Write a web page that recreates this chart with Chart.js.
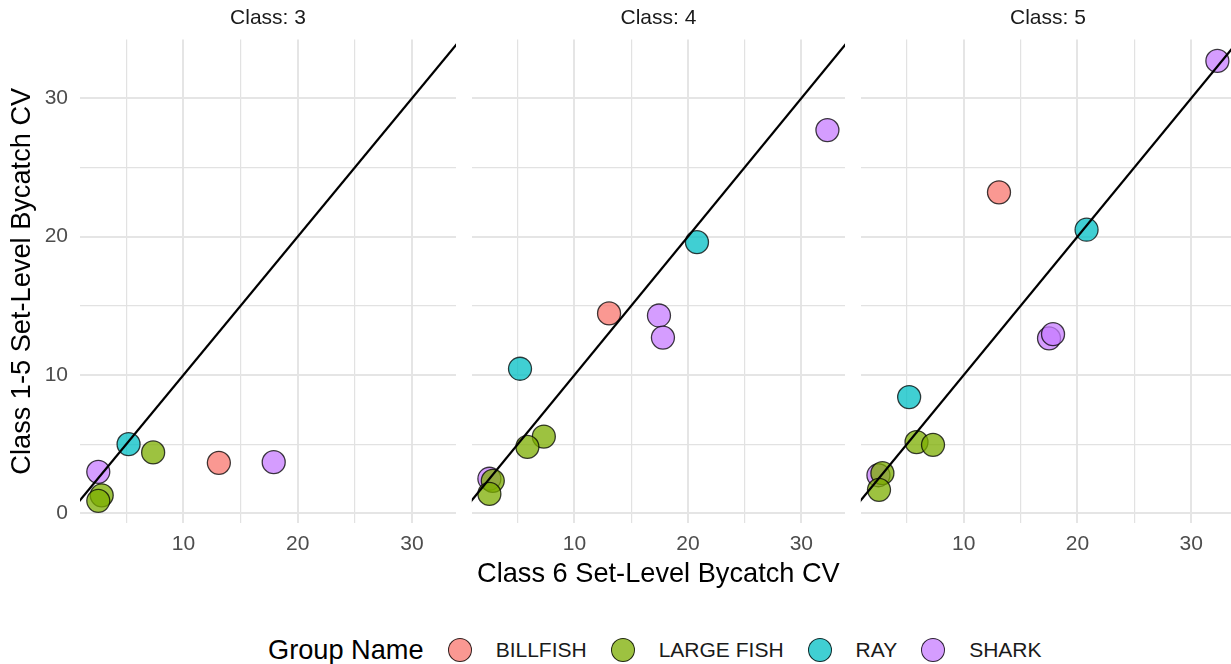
<!DOCTYPE html>
<html>
<head>
<meta charset="utf-8">
<script src="https://cdn.jsdelivr.net/npm/chart.js@4.4.1/dist/chart.umd.min.js"></script>
<style>
  html, body { margin: 0; padding: 0; background: #fff; overflow: hidden; }
  body { width: 1231px; height: 664px; position: relative; font-family: "Liberation Sans", Arial, sans-serif; }
  .panel { position: absolute; top: 0; }
  #legend { position: absolute; left: 268px; top: 633px; height: 34px; display: flex; align-items: center; white-space: nowrap; }
  #legend .ttl { font-size: 27.2px; color: #000; }
  #legend .dot { width: 22px; height: 22px; border-radius: 50%; border: 1px solid rgba(0,0,0,0.8); margin-left: 24px; box-sizing: content-box; }
  #legend .lbl { font-size: 21px; color: #1a1a1a; margin-left: 24px; }
</style>
</head>
<body>
<div class="panel" style="left:0px"><canvas id="p3" width="470" height="600"></canvas></div>
<div class="panel" style="left:459px"><canvas id="p4" width="400" height="600"></canvas></div>
<div class="panel" style="left:848px"><canvas id="p5" width="400" height="600"></canvas></div>
<div id="legend"></div>

<script>
// facets and groups
const classes = ['3', '4', '5'];
const groups = ['BILLFISH', 'LARGE FISH', 'RAY', 'SHARK'];
const groupColors = ['rgba(248,118,109,0.75)', 'rgba(124,174,0,0.75)', 'rgba(0,191,196,0.75)', 'rgba(199,124,255,0.75)'];

// Class 3 (x = class 6 CV, y = class 1-5 CV)
const c3Group = ['SHARK', 'LARGE FISH', 'LARGE FISH', 'RAY', 'LARGE FISH', 'BILLFISH', 'SHARK'];
const c3X = [2.55, 2.85, 2.55, 5.2, 7.35, 13.1, 17.9];
const c3Y = [3.0, 1.3, 0.9, 5.0, 4.4, 3.65, 3.7];

// Class 4
const c4Group = ['SHARK', 'RAY', 'BILLFISH', 'SHARK', 'SHARK', 'RAY', 'LARGE FISH', 'LARGE FISH', 'LARGE FISH', 'SHARK', 'LARGE FISH'];
const c4X = [32.3, 20.8, 13.05, 17.45, 17.8, 5.2, 7.3, 5.85, 2.8, 2.5, 2.5];
const c4Y = [27.7, 19.6, 14.45, 14.3, 12.7, 10.45, 5.55, 4.8, 2.35, 2.5, 1.4];

// Class 5
const c5Group = ['SHARK', 'BILLFISH', 'RAY', 'SHARK', 'SHARK', 'RAY', 'LARGE FISH', 'LARGE FISH', 'LARGE FISH', 'SHARK', 'LARGE FISH'];
const c5X = [32.3, 13.1, 20.8, 17.5, 17.85, 5.2, 5.85, 7.3, 2.85, 2.5, 2.55];
const c5Y = [32.7, 23.2, 20.5, 12.65, 12.95, 8.4, 5.15, 4.95, 2.9, 2.75, 1.7];

// y = x reference line
const refLine = [0, 40];

// axes
const xTicks = [5, 10, 15, 20, 25, 30];
const yTicks = [0, 5, 10, 15, 20, 25, 30];
const xRange = [0.95, 33.85];
const yRange = [-0.7, 34.25];

const FONT = '"Liberation Sans", Arial, sans-serif';
const panelGroup = [c3Group, c4Group, c5Group];
const panelX = [c3X, c4X, c5X];
const panelY = [c3Y, c4Y, c5Y];

function gridWidth(ctx) {
    return ctx.tick && ctx.tick.value % 10 === 0 ? 2 : 1.2;
}
function gridColor(ctx) {
    return ctx.tick && ctx.tick.value % 10 === 0 ? '#E5E5E5' : '#E2E2E2';
}

function makePanel(canvasId, k, yWidth, padRight) {
    const datasets = [{
        type: 'line',
        data: refLine.map(v => ({x: v, y: v})),
        borderColor: '#000',
        borderWidth: 2.2,
        pointRadius: 0,
        fill: false
    }];
    groups.forEach((g, gi) => {
        const pts = [];
        panelGroup[k].forEach((gg, i) => {
            if (gg === g) pts.push({x: panelX[k][i], y: panelY[k][i]});
        });
        datasets.push({
            label: g,
            data: pts,
            backgroundColor: groupColors[gi],
            borderColor: 'rgba(0,0,0,0.75)',
            borderWidth: 1.3,
            pointRadius: 11.5,
            pointHoverRadius: 11.5
        });
    });

    const showY = k === 0;
    return new Chart(document.getElementById(canvasId), {
        type: 'scatter',
        data: { datasets },
        options: {
            responsive: false,
            animation: false,
            devicePixelRatio: 1,
            layout: { padding: { left: 0, right: padRight, top: 0, bottom: 0 } },
            plugins: {
                legend: { display: false },
                tooltip: { enabled: false },
                title: {
                    display: true,
                    text: 'Class: ' + classes[k],
                    fullSize: false,
                    color: '#1A1A1A',
                    font: { family: FONT, size: 21, weight: 'normal', lineHeight: 1 },
                    padding: { top: 7.5, bottom: 11 }
                }
            },
            scales: {
                x: {
                    type: 'linear',
                    min: xRange[0],
                    max: xRange[1],
                    afterBuildTicks: s => { s.ticks = xTicks.map(v => ({value: v})); },
                    afterFit: s => { s.height = 77; },
                    border: { display: false },
                    grid: { color: gridColor, lineWidth: gridWidth, drawTicks: false },
                    ticks: {
                        callback: v => v % 10 === 0 ? String(v) : '',
                        color: '#4D4D4D',
                        font: { family: FONT, size: 21, lineHeight: 1 },
                        padding: 11,
                        maxRotation: 0,
                        autoSkip: false
                    },
                    title: {
                        display: k === 1,
                        text: 'Class 6 Set-Level Bycatch CV',
                        color: '#000',
                        font: { family: FONT, size: 27.2, lineHeight: 1 },
                        padding: { top: 0, bottom: 12 }
                    }
                },
                y: {
                    type: 'linear',
                    min: yRange[0],
                    max: yRange[1],
                    afterBuildTicks: s => { s.ticks = yTicks.map(v => ({value: v})); },
                    afterFit: s => { s.width = yWidth; },
                    border: { display: false },
                    grid: { color: gridColor, lineWidth: gridWidth, drawTicks: false },
                    ticks: {
                        display: showY,
                        callback: v => v % 10 === 0 ? String(v) : '',
                        color: '#4D4D4D',
                        font: { family: FONT, size: 21, lineHeight: 1 },
                        padding: 12
                    },
                    title: {
                        display: showY,
                        text: 'Class 1-5 Set-Level Bycatch CV',
                        color: '#000',
                        font: { family: FONT, size: 27.2, lineHeight: 1 },
                        padding: { top: 8.5, bottom: 0 }
                    }
                }
            }
        }
    });
}

makePanel('p3', 0, 80, 14);
makePanel('p4', 1, 10, 14);
makePanel('p5', 2, 11, 13);

// legend
const legend = document.getElementById('legend');
let html = '<span class="ttl">Group Name</span>';
groups.forEach((g, gi) => {
    html += '<span class="dot" style="background:' + groupColors[gi] + '"></span><span class="lbl">' + g + '</span>';
});
legend.innerHTML = html;
</script>
</body>
</html>
